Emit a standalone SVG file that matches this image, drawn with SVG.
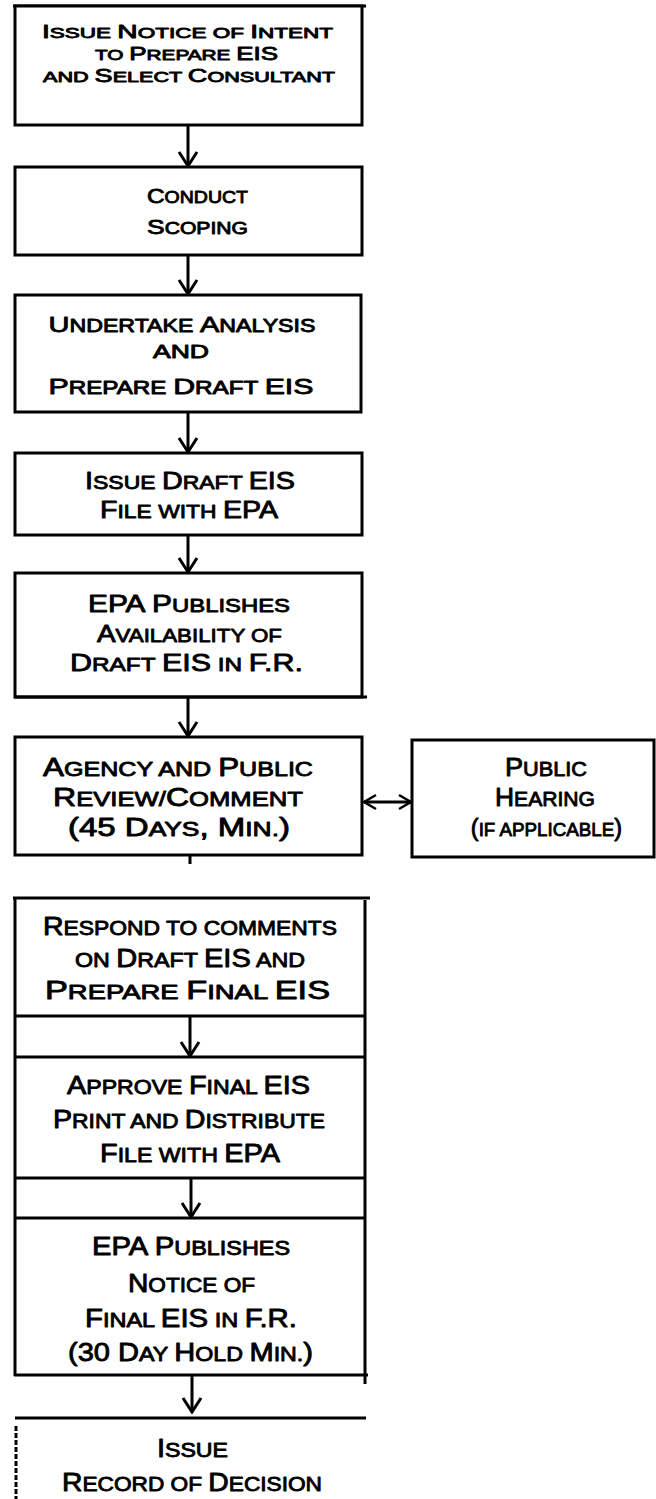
<svg xmlns="http://www.w3.org/2000/svg" width="656" height="1499" viewBox="0 0 656 1499">
<defs>
<style>
  .bx { fill: #fff; stroke: #000; stroke-width: 3; }
  .ln { stroke: #000; stroke-width: 3; fill: none; }
  .cn { stroke: #000; stroke-width: 3; fill: none; }
  text { font-family: "Liberation Sans", Arial, sans-serif; fill: #000; stroke: #000; stroke-width: 0.85; stroke-linejoin: round; text-anchor: middle; }
  .s { font-size: 80%; }
  .f18 { font-size: 18px; }
  .f21 { font-size: 21px; }
  .f22 { font-size: 22px; }
  .f24 { font-size: 24px; }
  .f25 { font-size: 25px; }
</style>
<marker id="ah" viewBox="-16 -11 18 22" refX="0" refY="0" markerWidth="18" markerHeight="22" markerUnits="userSpaceOnUse" orient="auto">
  <path d="M-14,-9 L0,0 L-14,9" fill="none" stroke="#000" stroke-width="3"/>
</marker>
<marker id="ah2" viewBox="-14 -9 16 18" refX="0" refY="0" markerWidth="16" markerHeight="18" markerUnits="userSpaceOnUse" orient="auto-start-reverse">
  <path d="M-12,-7 L0,0 L-12,7" fill="none" stroke="#000" stroke-width="2.5"/>
</marker>
</defs>
<rect width="656" height="1499" fill="#fff"/>

<g id="connectors">
  <line class="cn" x1="188" y1="125" x2="188" y2="166" marker-end="url(#ah)"/>
  <line class="cn" x1="188" y1="255" x2="188" y2="294" marker-end="url(#ah)"/>
  <line class="cn" x1="188" y1="412" x2="188" y2="452" marker-end="url(#ah)"/>
  <line class="cn" x1="188" y1="535" x2="188" y2="572" marker-end="url(#ah)"/>
  <line class="cn" x1="188" y1="697" x2="188" y2="736" marker-end="url(#ah)"/>
  <line class="cn" x1="190" y1="855" x2="190" y2="864"/>
  <line class="cn" x1="364" y1="802" x2="411" y2="802" stroke-width="2.5" marker-start="url(#ah2)" marker-end="url(#ah2)"/>
  <line class="cn" x1="190" y1="1016" x2="190" y2="1056" marker-end="url(#ah)"/>
  <line class="cn" x1="191" y1="1178" x2="191" y2="1217" marker-end="url(#ah)"/>
  <line class="cn" x1="192" y1="1375" x2="192" y2="1412" stroke-width="2.5" marker-end="url(#ah)"/>
</g>

<g id="node-notice">
  <line class="ln" x1="13" y1="6" x2="366" y2="6"/>
  <rect class="bx" x="15" y="6" width="347" height="119"/>
  <text class="f18" x="187.5" y="38" textLength="291" lengthAdjust="spacingAndGlyphs">I<tspan class="s">SSUE </tspan>N<tspan class="s">OTICE OF </tspan>I<tspan class="s">NTENT</tspan></text>
  <text class="f18" x="186.5" y="60" textLength="183" lengthAdjust="spacingAndGlyphs"><tspan class="s">TO </tspan>P<tspan class="s">REPARE </tspan>EIS</text>
  <text class="f18" x="189" y="82" textLength="292" lengthAdjust="spacingAndGlyphs"><tspan class="s">AND </tspan>S<tspan class="s">ELECT </tspan>C<tspan class="s">ONSULTANT</tspan></text>
</g>

<g id="node-scoping">
  <rect class="bx" x="15" y="167" width="347" height="88"/>
  <text class="f21" x="197.5" y="203" textLength="101" lengthAdjust="spacingAndGlyphs">C<tspan class="s">ONDUCT</tspan></text>
  <text class="f21" x="197.5" y="234" textLength="101" lengthAdjust="spacingAndGlyphs">S<tspan class="s">COPING</tspan></text>
</g>

<g id="node-analysis">
  <rect class="bx" x="15" y="295" width="346" height="117"/>
  <text class="f22" x="182" y="332" textLength="267" lengthAdjust="spacingAndGlyphs">U<tspan class="s">NDERTAKE </tspan>A<tspan class="s">NALYSIS</tspan></text>
  <text class="f22" x="181" y="358" textLength="56" lengthAdjust="spacingAndGlyphs"><tspan class="s">AND</tspan></text>
  <text class="f22" x="181" y="394" textLength="265" lengthAdjust="spacingAndGlyphs">P<tspan class="s">REPARE </tspan>D<tspan class="s">RAFT </tspan>EIS</text>
</g>

<g id="node-issue-draft">
  <rect class="bx" x="15" y="453" width="347" height="82"/>
  <text class="f24" x="190" y="489" textLength="210" lengthAdjust="spacingAndGlyphs">I<tspan class="s">SSUE </tspan>D<tspan class="s">RAFT </tspan>EIS</text>
  <text class="f24" x="189" y="518" textLength="178" lengthAdjust="spacingAndGlyphs">F<tspan class="s">ILE WITH </tspan>EPA</text>
</g>

<g id="node-epa-draft">
  <rect class="bx" x="15" y="573" width="347" height="124"/>
  <line class="ln" x1="14" y1="697" x2="367" y2="697" stroke-width="4"/>
  <text class="f24" x="189" y="612" textLength="202" lengthAdjust="spacingAndGlyphs">EPA P<tspan class="s">UBLISHES</tspan></text>
  <text class="f24" x="189.5" y="642" textLength="185" lengthAdjust="spacingAndGlyphs">A<tspan class="s">VAILABILITY OF</tspan></text>
  <text class="f24" x="186.5" y="671" textLength="233" lengthAdjust="spacingAndGlyphs">D<tspan class="s">RAFT </tspan>EIS<tspan class="s"> IN </tspan>F.R.</text>
</g>

<g id="node-review">
  <rect class="bx" x="15" y="737" width="347" height="118"/>
  <text class="f25" x="178" y="776" textLength="270" lengthAdjust="spacingAndGlyphs">A<tspan class="s">GENCY AND </tspan>P<tspan class="s">UBLIC</tspan></text>
  <text class="f25" x="178" y="806" textLength="250" lengthAdjust="spacingAndGlyphs">R<tspan class="s">EVIEW/</tspan>C<tspan class="s">OMMENT</tspan></text>
  <text class="f25" x="179" y="836" textLength="222" lengthAdjust="spacingAndGlyphs">(45 D<tspan class="s">AYS</tspan>, M<tspan class="s">IN.</tspan>)</text>
</g>

<g id="node-hearing">
  <rect class="bx" x="412" y="740" width="242" height="117"/>
  <text class="f25" x="546" y="776" textLength="82" lengthAdjust="spacingAndGlyphs">P<tspan class="s">UBLIC</tspan></text>
  <text class="f25" x="545" y="806" textLength="100" lengthAdjust="spacingAndGlyphs">H<tspan class="s">EARING</tspan></text>
  <text x="546.5" y="836" style="font-size:23.5px">(<tspan class="s">IF APPLICABLE</tspan>)</text>
</g>

<g id="node-respond">
  <line class="ln" x1="13" y1="898" x2="370" y2="898"/>
  <line class="ln" x1="15" y1="898" x2="15" y2="1376"/>
  <line class="ln" x1="365" y1="900" x2="365" y2="1384" stroke-width="4.5"/>
  <line class="ln" x1="14" y1="1016" x2="365" y2="1016"/>
  <text class="f25" x="190" y="935" textLength="294" lengthAdjust="spacingAndGlyphs">R<tspan class="s">ESPOND TO COMMENTS</tspan></text>
  <text class="f25" x="190" y="967" textLength="230" lengthAdjust="spacingAndGlyphs"><tspan class="s">ON </tspan>D<tspan class="s">RAFT </tspan>EIS<tspan class="s"> AND</tspan></text>
  <text class="f25" x="187.5" y="999" textLength="285" lengthAdjust="spacingAndGlyphs">P<tspan class="s">REPARE </tspan>F<tspan class="s">INAL </tspan>EIS</text>
</g>

<g id="node-approve">
  <line class="ln" x1="14" y1="1057" x2="365" y2="1057"/>
  <line class="ln" x1="14" y1="1178" x2="365" y2="1178"/>
  <text class="f25" x="188.5" y="1094" textLength="243" lengthAdjust="spacingAndGlyphs">A<tspan class="s">PPROVE </tspan>F<tspan class="s">INAL </tspan>EIS</text>
  <text class="f25" x="189" y="1128" textLength="272" lengthAdjust="spacingAndGlyphs">P<tspan class="s">RINT AND </tspan>D<tspan class="s">ISTRIBUTE</tspan></text>
  <text class="f25" x="190" y="1162" textLength="180" lengthAdjust="spacingAndGlyphs">F<tspan class="s">ILE WITH </tspan>EPA</text>
</g>

<g id="node-epa-final">
  <line class="ln" x1="14" y1="1218" x2="365" y2="1218"/>
  <line class="ln" x1="14" y1="1375" x2="368" y2="1375"/>
  <text class="f25" x="191" y="1255" textLength="198" lengthAdjust="spacingAndGlyphs">EPA P<tspan class="s">UBLISHES</tspan></text>
  <text class="f25" x="191.5" y="1292" textLength="127" lengthAdjust="spacingAndGlyphs">N<tspan class="s">OTICE OF</tspan></text>
  <text class="f25" x="191" y="1327" textLength="212" lengthAdjust="spacingAndGlyphs">F<tspan class="s">INAL </tspan>EIS<tspan class="s"> IN </tspan>F.R.</text>
  <text class="f25" x="190.5" y="1361" textLength="245" lengthAdjust="spacingAndGlyphs">(30 D<tspan class="s">AY </tspan>H<tspan class="s">OLD </tspan>M<tspan class="s">IN.</tspan>)</text>
</g>

<g id="node-decision">
  <line class="ln" x1="15" y1="1418" x2="366" y2="1418" stroke-width="2.5"/>
  <line class="ln" x1="16" y1="1426" x2="16" y2="1499" stroke-width="2" stroke-dasharray="5 2"/>
  <text class="f25" x="192.5" y="1457" textLength="71" lengthAdjust="spacingAndGlyphs">I<tspan class="s">SSUE</tspan></text>
  <text class="f25" x="192" y="1491" textLength="260" lengthAdjust="spacingAndGlyphs">R<tspan class="s">ECORD OF </tspan>D<tspan class="s">ECISION</tspan></text>
</g>
</svg>
